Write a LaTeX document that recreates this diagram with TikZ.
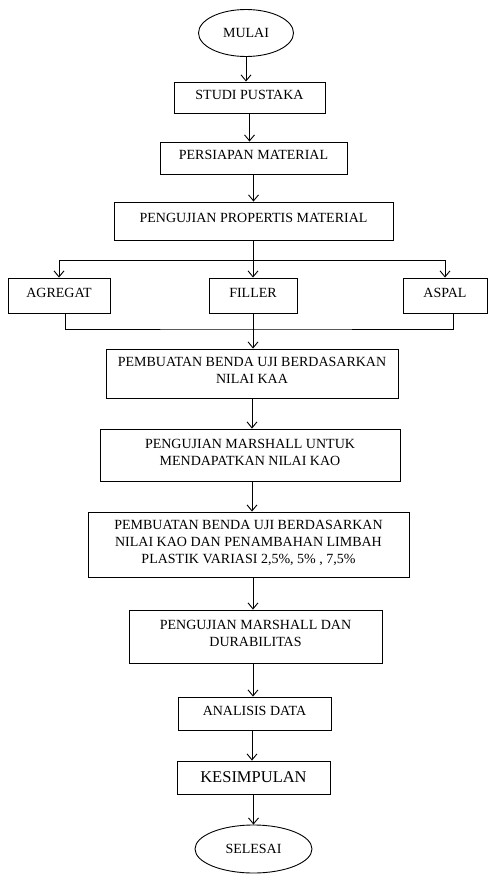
\documentclass[tikz,border=0pt]{standalone}
\usepackage{fontspec}
\setmainfont{Liberation Serif}
\usetikzlibrary{shapes.geometric,arrows.meta}

\begin{document}
\begin{tikzpicture}[x=1pt,y=-1pt,
    box/.style={draw,line width=0.9pt,inner sep=2pt,align=center,text depth=6pt,
                font=\fontsize{14}{17}\selectfont},
    oval/.style={ellipse,draw,line width=0.9pt,inner sep=0pt,
                 font=\fontsize{14}{17}\selectfont},
    arr/.style={line width=0.9pt,-{Straight Barb[length=6pt,width=10pt]}}]
  \useasboundingbox (0,0) rectangle (488,875);
  % Upper part of the flow
  \node[oval,minimum width=95pt,minimum height=47pt]  (mulai)     at (246,33)    {MULAI};
  \node[box,minimum width=151pt,minimum height=31pt]  (studi)     at (249.5,97.5) {STUDI PUSTAKA};
  \node[box,minimum width=187pt,minimum height=32pt]  (persiapan) at (253.5,158)  {PERSIAPAN MATERIAL};
  \node[box,minimum width=279pt,minimum height=38pt]  (properti)  at (253.5,221)  {PENGUJIAN PROPERTIS MATERIAL};
  \draw[arr] (mulai.south) -- (mulai.south |- studi.north);
  \draw[arr] (studi.south) -- (studi.south |- persiapan.north);
  \draw[arr] (persiapan.south) -- (persiapan.south |- properti.north);
  % Material branches
  \node[box,minimum width=102pt,minimum height=35pt] (agregat) at (59,295.5)  {AGREGAT};
  \node[box,minimum width=88pt,minimum height=35pt]  (filler)  at (253,295.5) {FILLER};
  \node[box,minimum width=84pt,minimum height=35pt]  (aspal)   at (445,295.5) {ASPAL};
  \coordinate (split) at (253,260);
  \coordinate (join)  at (253,329);
  \draw[arr] (properti.south -| filler) -- (filler.north);
  \draw[arr] (split) -| (agregat);
  \draw[arr] (split) -| (aspal);
  \draw ([xshift=6pt]agregat.south) |- (join) -| ([xshift=8pt]aspal.south);
  % Lower part of the flow
  \node[box,minimum width=292pt,minimum height=49pt] (kaa)       at (252,373.5) {PEMBUATAN BENDA UJI BERDASARKAN\\NILAI KAA};
  \node[box,minimum width=300pt,minimum height=52pt] (marshall)  at (250,455)   {PENGUJIAN MARSHALL UNTUK\\MENDAPATKAN NILAI KAO};
  \node[box,minimum width=321pt,minimum height=65pt] (limbah)    at (248.5,544.5) {PEMBUATAN BENDA UJI BERDASARKAN\\NILAI KAO DAN PENAMBAHAN LIMBAH\\PLASTIK VARIASI 2,5\%, 5\% , 7,5\%};
  \node[box,minimum width=253pt,minimum height=53pt] (durabilitas) at (255.5,636.5) {PENGUJIAN MARSHALL DAN\\DURABILITAS};
  \node[box,minimum width=153pt,minimum height=33pt] (analisis)  at (254.5,713.5) {ANALISIS DATA};
  \node[box,minimum width=153pt,minimum height=33pt,text depth=0pt,font=\fontsize{16.5}{20}\selectfont] (kesimpulan) at (253.5,777.5) {KESIMPULAN};
  \node[oval,minimum width=117pt,minimum height=48pt] (selesai)  at (253.5,849)  {SELESAI};
  \draw[arr] (filler.south) -- (filler.south |- kaa.north);
  \draw[arr] (kaa.south) -- (kaa.south |- marshall.north);
  \draw[arr] (kaa.south |- marshall.south) -- (kaa.south |- limbah.north);
  \draw[arr] (filler.south |- limbah.south) -- (filler.south |- durabilitas.north);
  \draw[arr] (filler.south |- durabilitas.south) -- (filler.south |- analisis.north);
  \draw[arr] (kaa.south |- analisis.south) -- (kaa.south |- kesimpulan.north);
  \draw[arr] (kesimpulan.south -| selesai) -- (selesai.north);
\end{tikzpicture}
\end{document}
